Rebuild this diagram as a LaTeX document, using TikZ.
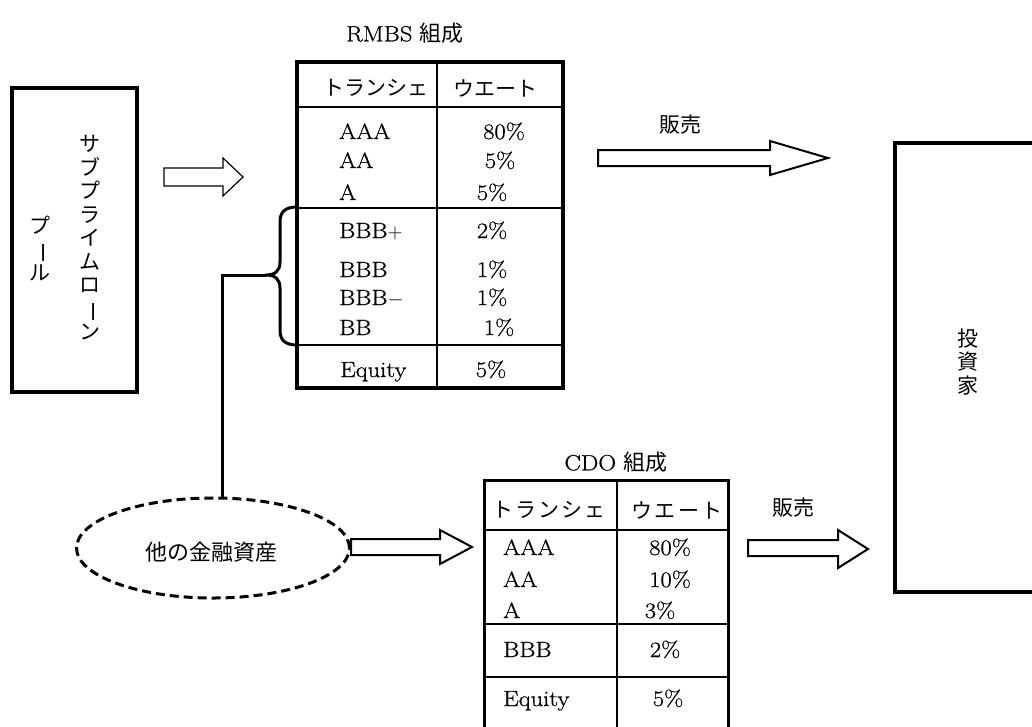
\documentclass[tikz,border=0pt]{standalone}
\usepackage{fontspec}
\usepackage{graphicx}
\usetikzlibrary{shapes.geometric}
\setmainfont{Latin Modern Roman}[FakeStretch=1.12, FakeBold=0.8]
\newfontfamily\jp{Noto Sans CJK JP}
\newcommand\vchoon{\rotatebox[origin=c]{-90}{ー}}
\begin{document}
\begin{tikzpicture}[x=1pt,y=-1pt,
  outer/.style={line width=3.5pt},
  inner/.style={line width=1.3pt},
  lat/.style={font=\fontsize{22}{26}\selectfont, anchor=base west, inner sep=0},
  pct/.style={font=\fontsize{22}{26}\selectfont, anchor=base, inner sep=0},
  jpt/.style={font=\jp\fontsize{21}{24}\selectfont, inner sep=0},
  vjp/.style={font=\jp\fontsize{21}{23.5}\selectfont, align=center, inner sep=0},
  ttl/.style={font=\fontsize{22}{26}\selectfont, inner sep=0},
  barrow/.style={line width=1.6pt, fill=white, line join=miter},
  brace/.style={line width=3pt}]
\clip (0,0) rectangle (1032,726);
% pool box
\node[draw, outer, minimum width=125pt, minimum height=304pt, inner sep=0] (pool) at (74.5,240) {};
\node[vjp] (pooltxt1) at (90,238) {サ\\ブ\\プ\\ラ\\イ\\ム\\ロ\\\vchoon\\ン};
\node[vjp] (pooltxt2) at (40,249) {プ\\\vchoon\\ル};
% small arrow
\draw[barrow, line width=1.2pt] (164,168) -- (223,168) -- (223,158) -- (243,177) -- (223,196) -- (223,186) -- (164,186) -- cycle;
% RMBS table
\node[ttl] (rtitle) at (405,33) {RMBS {\jp 組成}};
\draw[outer] (297,62) rectangle (563,388);
\draw[inner] (437,62) -- (437,388);
\draw[inner] (297,107) -- (563,107);
\draw[inner] (297,208) -- (563,208);
\draw[inner] (297,345) -- (563,345);
\node[jpt] (rh1) at (376,88) {トランシェ};
\node[jpt] (rh2) at (495,88) {ウエート};
\node[lat] (r1) at (339,139) {AAA};
\node[lat] (r2) at (339,168) {AA};
\node[lat] (r3) at (339,200) {A};
\node[lat] (r4) at (339,238) {BBB$+$};
\node[lat] (r5) at (339,277) {BBB};
\node[lat] (r6) at (339,305) {BBB$-$};
\node[lat] (r7) at (339,335) {BB};
\node[lat] (r8) at (340,377) {Equity};
\node[pct] (p1) at (504,139) {80\%};
\node[pct] (p2) at (500,168) {5\%};
\node[pct] (p3) at (492,200) {5\%};
\node[pct] (p4) at (492,238) {2\%};
\node[pct] (p5) at (492,277) {1\%};
\node[pct] (p6) at (492,305) {1\%};
\node[pct] (p7) at (499,335) {1\%};
\node[pct] (p8) at (491,377) {5\%};
% brace
\coordinate (btip) at (266,275);
\draw[brace, line join=round] (297,207) .. controls (285,207) and (280,212) .. (280,222) -- (280,262)
  .. controls (280,271) and (275,275) .. (btip)
  .. controls (275,275) and (280,279) .. (280,288) -- (280,330)
  .. controls (280,340) and (285,345) .. (297,345);
% sale arrow 1
\node[jpt] (sale1) at (680,125) {販売};
\draw[barrow, line width=2pt] (598,150) -- (770,150) -- (770,141) -- (828,158) -- (770,175) -- (770,166) -- (598,166) -- cycle;
% investor box
\node[draw, outer, minimum width=150pt, minimum height=449pt, inner sep=0] (inv) at (970,367.5) {};
\node[vjp] (invtxt) at (968,362) {投\\資\\家};
% other assets ellipse
\node[ellipse, draw, line width=3pt, dash pattern=on 9pt off 5pt, minimum width=273pt, minimum height=100pt, inner sep=0] (other) at (213,548) {};
\node[font=\jp\fontsize{22}{26}\selectfont, inner sep=0] (othertxt) at (211,552) {他の金融資産};
\coordinate (jn) at (222,499);
\draw[brace] (btip) -| (jn);
\draw[barrow, line width=2pt] (other.east |- 0,539) -- (440,539) -- (440,530) -- (472,547) -- (440,564) -- (440,555) -- (other.east |- 0,555) -- cycle;
% CDO table
\node[ttl] (ctitle) at (616,462) {CDO {\jp 組成}};
\draw[line width=3pt] (484,740) -- (484,480) -- (728,480) -- (728,740);
\draw[inner] (617,480) -- (617,740);
\draw[inner] (484,530) -- (728,530);
\draw[inner] (484,624) -- (728,624);
\draw[inner] (484,677) -- (728,677);
\node[jpt] (ch1) at (549,510) {\addfontfeatures{LetterSpace=10}トランシェ};
\node[jpt] (ch2) at (677,510) {\addfontfeatures{LetterSpace=10}ウエート};
\node[lat] (c1) at (503,555) {AAA};
\node[lat] (c2) at (503,587) {AA};
\node[lat] (c3) at (503,618) {A};
\node[lat] (c4) at (503,657) {BBB};
\node[lat] (c5) at (503,706) {Equity};
\node[pct] (q1) at (670,555) {80\%};
\node[pct] (q2) at (670,587) {10\%};
\node[pct] (q3) at (660,618) {3\%};
\node[pct] (q4) at (665,657) {2\%};
\node[pct] (q5) at (668,706) {5\%};
% sale arrow 2
\node[jpt] (sale2) at (793,508) {販売};
\draw[barrow, line width=2pt] (748,540) -- (838,540) -- (838,530) -- (868,549) -- (838,568) -- (838,556) -- (748,556) -- cycle;
\end{tikzpicture}
\end{document}
